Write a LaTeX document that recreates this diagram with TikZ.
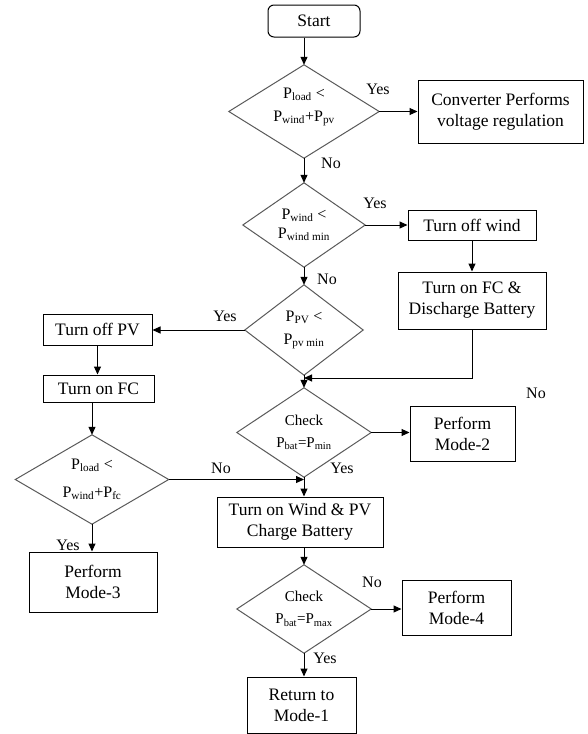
\documentclass[tikz,border=0pt]{standalone}
\usepackage{fontspec}
\setmainfont{Liberation Serif}
\usetikzlibrary{arrows.meta}
\newcommand{\Psub}[1]{P\textsubscript{#1}}
\begin{document}
\begin{tikzpicture}[x=1pt,y=-1pt,
  box/.style={draw=black,line width=1pt,inner sep=0pt,align=center,font=\fontsize{17.5}{21}\selectfont},
  dtext/.style={inner sep=0pt,align=center,font=\fontsize{16}{23}\selectfont},
  dline/.style={draw=black!65,line width=1pt},
  arr/.style={line width=1pt,-{Triangle[length=8pt,width=7pt]}},
  lin/.style={line width=1pt},
  lbl/.style={font=\fontsize{16}{18}\selectfont,inner sep=0pt}]
\useasboundingbox (0,0) rectangle (587,734);

% boxes
\node[box,rounded corners=6pt,minimum width=92,minimum height=32] (start) at (314,21) {Start};
\node[box,minimum width=165,minimum height=63] (conv) at (500.5,111.5) {Converter Performs\\voltage regulation};
\node[box,minimum width=128,minimum height=30] (offwind) at (472,225) {Turn off wind};
\node[box,minimum width=148,minimum height=57] (fcdis) at (472,300.5) {Turn on FC \&\\Discharge Battery};
\node[box,minimum width=109,minimum height=31] (offpv) at (97.5,329.5) {Turn off PV};
\node[box,minimum width=111,minimum height=27] (onfc) at (98.5,388.5) {Turn on FC};
\node[box,minimum width=128,minimum height=60] (mode3) at (93,582) {Perform\\Mode-3};
\node[box,minimum width=105,minimum height=55] (mode2) at (462.5,433.5) {Perform\\Mode-2};
\node[box,minimum width=166,minimum height=50] (chg) at (300,522) {Turn on Wind \& PV\\Charge Battery};
\node[box,minimum width=109,minimum height=55] (mode4) at (456.5,607.5) {Perform\\Mode-4};
\node[box,minimum width=109,minimum height=56] (ret) at (301.5,705) {Return to\\Mode-1};

% diamonds (text frames)
\node[dtext,text depth=14pt,minimum width=150,minimum height=93] (d1) at (304,111.5) {\Psub{load} <\\\Psub{wind}+\Psub{pv}};
\node[dtext,font=\fontsize{16}{19}\selectfont,minimum width=122,minimum height=84] (d2) at (304,225) {\Psub{wind} <\\\Psub{wind min}};
\node[dtext,minimum width=118,minimum height=90] (d3) at (304,330) {\Psub{PV} <\\\Psub{pv min}};
\node[dtext,font=\fontsize{16}{28}\selectfont,minimum width=153,minimum height=89] (d4) at (92,479.5) {\Psub{load} <\\\Psub{wind}+\Psub{fc}};
\node[dtext,font=\fontsize{15}{22}\selectfont,minimum width=134,minimum height=89] (d5) at (304,432.5) {Check\\\Psub{bat}=\Psub{min}};
\node[dtext,font=\fontsize{15}{22}\selectfont,minimum width=134,minimum height=88] (d6) at (304,609) {Check\\\Psub{bat}=\Psub{max}};
\foreach \d in {d1,d2,d3,d4,d5,d6}{
  \draw[dline] (\d.north) -- (\d.east) -- (\d.south) -- (\d.west) -- cycle;
}

% junctions
\coordinate (j1) at (304,378);
\coordinate (j2) at (d5.south |- d4.east);

% connectors
\draw[arr] (start.south -| d1.north) -- (d1.north);
\draw[arr] (d1.east) -- (d1.east -| conv.west);
\draw[arr] (d1.south) -- (d2.north);
\draw[arr] (d2.east) -- (d2.east -| offwind.west);
\draw[arr] (offwind.south) -- (fcdis.north);
\draw[arr] (fcdis.south) |- (j1);
\draw[arr] (d2.south) -- (d3.north);
\draw[arr] (d3.west) -- (d3.west -| offpv.east);
\draw[arr] (d3.south) -- (d5.north);
\draw[arr] (offpv.south) -- (offpv.south |- onfc.north);
\draw[arr] (onfc.south -| d4.north) -- (d4.north);
\draw[arr] (d4.east) -- (j2);
\draw[arr] (d4.south) -- (d4.south |- mode3.north);
\draw[arr] (d5.east) -- (d5.east -| mode2.west);
\draw[arr] (d5.south) -- (d5.south |- chg.north);
\draw[arr] (chg.south -| d6.north) -- (d6.north);
\draw[arr] (d6.east) -- (d6.east -| mode4.west);
\draw[arr] (d6.south) -- (d6.south |- ret.north);

% labels
\node[lbl] (l1) at (378,89) {Yes};
\node[lbl] (l2) at (331,163) {No};
\node[lbl] (l3) at (375,203) {Yes};
\node[lbl] (l4) at (327,279) {No};
\node[lbl] (l5) at (225,316) {Yes};
\node[lbl] (l6) at (536,393) {No};
\node[lbl] (l7) at (342,468) {Yes};
\node[lbl] (l8) at (221,468) {No};
\node[lbl] (l9) at (68,545) {Yes};
\node[lbl] (l10) at (372,582) {No};
\node[lbl] (l11) at (325,658) {Yes};
\end{tikzpicture}
\end{document}
